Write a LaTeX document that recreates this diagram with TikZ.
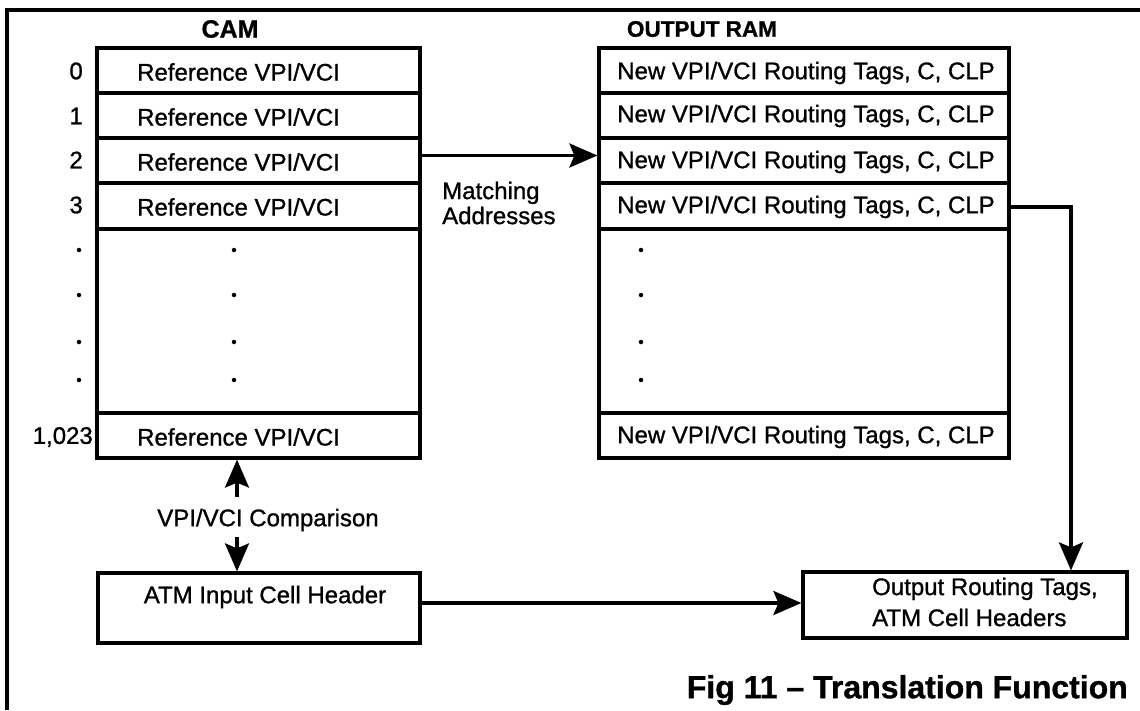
\documentclass[tikz,border=0pt]{standalone}
\usepackage{fontspec}
\setmainfont{Liberation Sans}[RawFeature={embolden=1.0}]
\usetikzlibrary{arrows.meta,calc}
\begin{document}
\begin{tikzpicture}[x=1pt,y=-1pt,
  box/.style={draw, line width=3.2pt, inner sep=0pt},
  lab/.style={font=\fontsize{24}{25}\selectfont, inner sep=0pt},
  num/.style={font=\fontsize{24}{25}\selectfont, inner sep=0pt, anchor=east},
  ttl/.style={font=\fontsize{24}{26}\selectfont\bfseries, inner sep=0pt},
  figcaption/.style={font=\fontsize{32}{34}\selectfont\bfseries, inner sep=0pt, anchor=east},
  arr/.style={line width=3.2pt, -{Stealth[length=28pt,width=24pt,inset=5pt]}},
  dotn/.style={circle, fill, inner sep=0pt, minimum size=4.5pt},
  frameline/.style={line width=3.5pt}]
\useasboundingbox (0,0) rectangle (1140,710);
% frame
\draw[frameline] (7,710) -- (7,10) -- (1140,10);

% titles
\node[ttl, font=\fontsize{25}{26}\selectfont\bfseries] (camt) at (230,29) {CAM};
\node[ttl, font=\fontsize{22.5}{26}\selectfont\bfseries] (ramt) at (702,29) {OUTPUT RAM};

% CAM rows
\node[box, minimum width=323pt, minimum height=45pt] (c0) at (258.5,70.5) {};
\node[box, minimum width=323pt, minimum height=45pt] (c1) at (258.5,115.5) {};
\node[box, minimum width=323pt, minimum height=45pt] (c2) at (258.5,160.5) {};
\node[box, minimum width=323pt, minimum height=46pt] (c3) at (258.5,206) {};
\node[box, minimum width=323pt, minimum height=184pt] (cd) at (258.5,321) {};
\node[box, minimum width=323pt, minimum height=45pt] (c4) at (258.5,435.5) {};

\node[lab, anchor=west] (ct0) at (137,72) {Reference VPI/VCI};
\node[lab, anchor=west] (ct1) at (137,117) {Reference VPI/VCI};
\node[lab, anchor=west] (ct2) at (137,162) {Reference VPI/VCI};
\node[lab, anchor=west] (ct3) at (137,207) {Reference VPI/VCI};
\node[lab, anchor=west] (ct4) at (137,437) {Reference VPI/VCI};

\node[num] (n0) at (83,71) {0};
\node[num] (n1) at (83,116) {1};
\node[num] (n2) at (83,160) {2};
\node[num] (n3) at (83,205) {3};
\node[num] (n4) at (93,437) {1,023};

\foreach \yy [count=\i] in {250,295,342,380} {
  \node[dotn] (ld\i) at (79,\yy) {};
  \node[dotn] (cdd\i) at (234,\yy) {};
  \node[dotn] (rdd\i) at (641,\yy) {};
}

% OUTPUT RAM rows
\node[box, minimum width=410pt, minimum height=45pt] (r0) at (804,70.5) {};
\node[box, minimum width=410pt, minimum height=45pt] (r1) at (804,115.5) {};
\node[box, minimum width=410pt, minimum height=45pt] (r2) at (804,160.5) {};
\node[box, minimum width=410pt, minimum height=46pt] (r3) at (804,206) {};
\node[box, minimum width=410pt, minimum height=184pt] (rd) at (804,321) {};
\node[box, minimum width=410pt, minimum height=45pt] (r4) at (804,435.5) {};

\node[lab] (rt0) at (806,73) {New VPI/VCI Routing Tags, C, CLP};
\node[lab] (rt1) at (806,116) {New VPI/VCI Routing Tags, C, CLP};
\node[lab] (rt2) at (806,162) {New VPI/VCI Routing Tags, C, CLP};
\node[lab] (rt3) at (806,207) {New VPI/VCI Routing Tags, C, CLP};
\node[lab] (rt4) at (806,437) {New VPI/VCI Routing Tags, C, CLP};

% matching addresses
\node[lab, anchor=west, align=left] (match) at (442,203) {Matching\\Addresses};
\draw[arr] ([yshift=5pt]c2.east) -- ([yshift=5pt]c2.east -| r2.west);

% bottom boxes
\node[box, minimum width=322pt, minimum height=70pt] (atm) at (259,608) {};
\node[lab] (atmt) at (265,597) {ATM Input Cell Header};
\node[box, minimum width=324pt, minimum height=66pt] (out) at (965,605) {};
\node[lab, anchor=west, align=left, font=\fontsize{24}{31}\selectfont] (outt) at (872,602) {Output Routing Tags,\\ATM Cell Headers};

% comparison
\node[lab] (cmp) at (268,520) {VPI/VCI Comparison};
\coordinate (u1) at (237,497);
\coordinate (d1) at (237,537);
\draw[arr] (u1) -- (u1 |- c4.south);
\draw[arr] (d1) -- (d1 |- atm.north);

% input to output
\draw[arr] ([yshift=5pt]atm.east) -- ([yshift=5pt]atm.east -| out.west);

% row 3 to output
\coordinate (bend) at (1071,207);
\draw[arr] (r3.east |- bend) -- (bend) -- (bend |- out.north);

% caption
\node[figcaption] (caption) at (1128,690) {Fig 11 -- Translation Function};
\end{tikzpicture}
\end{document}
